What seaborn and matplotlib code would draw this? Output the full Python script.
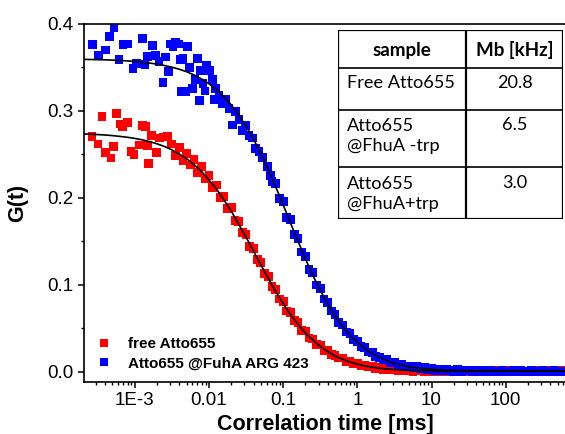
import numpy as np
import pandas as pd
import matplotlib
matplotlib.use('Agg')
import matplotlib.pyplot as plt
import seaborn as sns
from matplotlib.ticker import FixedLocator, FixedFormatter, LogLocator, NullFormatter, MultipleLocator
from matplotlib.patches import Rectangle

# --- data (log10 of lag time in ms, G(t)) ---
red_logt = [-3.575, -3.495, -3.44, -3.39, -3.32, -3.29, -3.25, -3.20, -3.17, -3.10, -3.05,
            -3.01, -2.94, -2.90, -2.85, -2.83, -2.81, -2.77, -2.71, -2.67, -2.61, -2.56,
            -2.50, -2.45, -2.40, -2.35, -2.30, -2.25, -2.20, -2.15, -2.10, -2.05,
            -2.00, -1.95, -1.90, -1.85, -1.80, -1.75, -1.70, -1.65, -1.60, -1.55,
            -1.50, -1.45, -1.40, -1.35, -1.30, -1.25, -1.20, -1.15, -1.10, -1.05,
            -1.00, -0.95, -0.90, -0.85, -0.80, -0.75, -0.70, -0.65, -0.60, -0.55,
            -0.50, -0.45, -0.40, -0.35, -0.30, -0.25, -0.20, -0.15, -0.10, -0.05,
            0.00, 0.05, 0.10, 0.15, 0.20, 0.25, 0.30, 0.35, 0.40, 0.45,
            0.50, 0.55, 0.60, 0.65, 0.70, 0.75, 0.80, 0.85, 0.90, 0.95,
            1.00, 1.05, 1.10, 1.15, 1.20, 1.25, 1.30, 1.35, 1.40, 1.45,
            1.50, 1.55, 1.60, 1.65, 1.70, 1.75, 1.80, 1.85, 1.90, 1.95,
            2.00, 2.05, 2.10, 2.15, 2.20, 2.25, 2.30, 2.35, 2.40, 2.45,
            2.50, 2.55, 2.60, 2.65, 2.70, 2.75]
red_G = [0.271, 0.262, 0.294, 0.252, 0.246, 0.259, 0.297, 0.285, 0.282, 0.287, 0.253,
         0.250, 0.261, 0.283, 0.282, 0.260, 0.240, 0.272, 0.252, 0.269, 0.270, 0.271,
         0.262, 0.249, 0.258, 0.243, 0.251, 0.238, 0.244, 0.229, 0.236, 0.222,
         0.226, 0.212, 0.215, 0.201, 0.202, 0.188, 0.189, 0.174, 0.173, 0.160,
         0.158, 0.144, 0.142, 0.129, 0.126, 0.113, 0.110, 0.098, 0.095, 0.084,
         0.081, 0.070, 0.068, 0.059, 0.057, 0.048, 0.047, 0.039, 0.038, 0.032,
         0.031, 0.025, 0.025, 0.020, 0.019, 0.016, 0.016, 0.012, 0.012, 0.010,
         0.010, 0.007, 0.008, 0.006, 0.006, 0.004, 0.005, 0.003, 0.004, 0.003,
         0.004, 0.002, 0.003, 0.002, 0.003, 0.001, 0.002, 0.002, 0.001, 0.002,
         0.001, 0.002, 0.001, 0.001, 0.002, 0.000, 0.002, 0.001, 0.001, 0.002,
         0.000, 0.001, 0.002, 0.000, 0.001, 0.002, 0.001, 0.000, 0.002, 0.001,
         0.001, 0.002, 0.000, 0.001, 0.002, 0.001, 0.000, 0.001, 0.002, 0.001,
         0.001, 0.000, 0.002, 0.001, 0.001, 0.002]

blue_logt = [-3.571, -3.491, -3.391, -3.337, -3.279, -3.212, -3.158, -3.100, -3.023, -2.978,
             -2.898, -2.861, -2.830, -2.763, -2.717, -2.673, -2.619, -2.582, -2.547, -2.515,
             -2.484, -2.447, -2.412, -2.380, -2.349, -2.367, -2.313, -2.291, -2.259, -2.224,
             -2.187, -2.156, -2.111, -2.124, -2.080, -2.053, -2.035, -1.989, -1.954, -1.931,
             -1.908, -1.864, -1.819, -1.774, -1.729, -1.684, -1.639, -1.594, -1.550, -1.505,
             -1.460, -1.415, -1.370, -1.325, -1.280, -1.213, -1.167,
             -1.15, -1.10, -1.05, -1.00, -0.95, -0.90, -0.85, -0.80, -0.75, -0.70,
             -0.65, -0.60, -0.55, -0.50, -0.45, -0.40, -0.35, -0.30, -0.25, -0.20,
             -0.15, -0.10, -0.05, 0.00, 0.05, 0.10, 0.15, 0.20, 0.25, 0.30,
             0.35, 0.40, 0.45, 0.50, 0.55, 0.60, 0.65, 0.70, 0.75, 0.80,
             0.85, 0.90, 0.95, 1.00, 1.05, 1.10, 1.15, 1.20, 1.25, 1.30,
             1.35, 1.40, 1.45, 1.50, 1.55, 1.60, 1.65, 1.70, 1.75, 1.80,
             1.85, 1.90, 1.95, 2.00, 2.05, 2.10, 2.15, 2.20, 2.25, 2.30,
             2.35, 2.40, 2.45, 2.50, 2.55, 2.60, 2.65, 2.70, 2.75]
blue_G = [0.376, 0.364, 0.370, 0.386, 0.396, 0.359, 0.376, 0.377, 0.349, 0.355,
          0.383, 0.353, 0.363, 0.375, 0.364, 0.357, 0.333, 0.362, 0.345, 0.377,
          0.374, 0.379, 0.377, 0.359, 0.360, 0.322, 0.322, 0.374, 0.350, 0.326,
          0.336, 0.360, 0.347, 0.312, 0.332, 0.323, 0.352, 0.347, 0.336, 0.313,
          0.326, 0.318, 0.309, 0.313, 0.303, 0.284, 0.299, 0.290, 0.278, 0.283,
          0.272, 0.269, 0.257, 0.253, 0.247, 0.236, 0.226,
          0.219, 0.217, 0.199, 0.196, 0.178, 0.175, 0.158, 0.153, 0.138, 0.133,
          0.118, 0.114, 0.100, 0.096, 0.084, 0.080, 0.070, 0.066, 0.057, 0.054,
          0.046, 0.044, 0.037, 0.035, 0.029, 0.028, 0.023, 0.022, 0.018, 0.017,
          0.014, 0.014, 0.011, 0.011, 0.008, 0.009, 0.006, 0.007, 0.005, 0.006,
          0.004, 0.005, 0.003, 0.004, 0.002, 0.003, 0.002, 0.003, 0.002, 0.001,
          0.003, 0.001, 0.002, 0.002, 0.001, 0.002, 0.001, 0.002, 0.000, 0.002,
          0.001, 0.001, 0.002, 0.001, 0.000, 0.002, 0.001, 0.002, 0.001, 0.000,
          0.002, 0.001, 0.001, 0.002, 0.001, 0.000, 0.002, 0.001, 0.001]

# fitted curves, sampled every 0.1 decade
fit_logt = [-3.7, -3.6, -3.5, -3.4, -3.3, -3.2, -3.1, -3.0, -2.9, -2.8, -2.7, -2.6, -2.5,
            -2.4, -2.3, -2.2, -2.1, -2.0, -1.9, -1.8, -1.7, -1.6, -1.5, -1.4, -1.3, -1.2,
            -1.1, -1.0, -0.9, -0.8, -0.7, -0.6, -0.5, -0.4, -0.3, -0.2, -0.1, 0.0, 0.1,
            0.2, 0.3, 0.4, 0.5, 0.6, 0.7, 0.8, 0.9, 1.0, 1.1, 1.2, 1.3, 1.4, 1.5, 1.6,
            1.7, 1.8, 1.9, 2.0, 2.1, 2.2, 2.3, 2.4, 2.5, 2.6, 2.7, 2.8]
red_fit = [0.2737, 0.2733, 0.2729, 0.2724, 0.2717, 0.2708, 0.2698, 0.2685, 0.2669, 0.2648,
           0.2623, 0.2592, 0.2554, 0.2505, 0.2452, 0.2382, 0.2306, 0.2208, 0.2106, 0.1980,
           0.1850, 0.1700, 0.1551, 0.1391, 0.1231, 0.1077, 0.0925, 0.0789, 0.0659, 0.0550,
           0.0449, 0.0369, 0.0294, 0.0237, 0.0184, 0.0148, 0.0114, 0.0091, 0.0070, 0.0056,
           0.0043, 0.0035, 0.0028, 0.0023, 0.0019, 0.0017, 0.0015, 0.0013, 0.0012, 0.0011,
           0.0011, 0.0010, 0.0010, 0.0010, 0.0010, 0.0010, 0.0010, 0.0010, 0.0010, 0.0010,
           0.0010, 0.0010, 0.0010, 0.0010, 0.0010, 0.0010]
blue_fit = [0.3594, 0.3592, 0.3590, 0.3588, 0.3585, 0.3581, 0.3576, 0.3569, 0.3561, 0.3551,
            0.3539, 0.3523, 0.3504, 0.3480, 0.3451, 0.3414, 0.3369, 0.3313, 0.3247, 0.3166,
            0.3070, 0.2956, 0.2826, 0.2677, 0.2509, 0.2326, 0.2128, 0.1922, 0.1711, 0.1504,
            0.1301, 0.1113, 0.0937, 0.0783, 0.0643, 0.0527, 0.0422, 0.0342, 0.0268, 0.0214,
            0.0165, 0.0131, 0.0100, 0.0079, 0.0060, 0.0048, 0.0037, 0.0031, 0.0025, 0.0020,
            0.0018, 0.0015, 0.0014, 0.0013, 0.0012, 0.0011, 0.0011, 0.0010, 0.0010, 0.0010,
            0.0010, 0.0010, 0.0010, 0.0010, 0.0010, 0.0010]

series_names = ['free Atto655', 'Atto655 @FuhA ARG 423']
series_colors = ['#ff0000', '#0000ff']

xtick_vals = [1e-3, 1e-2, 1e-1, 1, 10, 100]
xtick_labels = ['1E-3', '0.01', '0.1', '1', '10', '100']

table_header = ['sample', 'Mb [kHz]']
table_samples = ['Free Atto655', 'Atto655\n@FhuA -trp', 'Atto655\n@FhuA+trp']
table_mb = ['20.8', '6.5', '3.0']

sns.set_theme(style='ticks', rc={'axes.edgecolor': 'black', 'xtick.color': 'black',
                                 'ytick.color': 'black', 'text.color': 'black',
                                 'axes.labelcolor': 'black'})
plt.rcParams['font.family'] = ['Liberation Sans', 'DejaVu Sans']

df = pd.concat([
    pd.DataFrame({'t': 10 ** np.array(red_logt), 'G': red_G, 'sample': series_names[0]}),
    pd.DataFrame({'t': 10 ** np.array(blue_logt), 'G': blue_G, 'sample': series_names[1]}),
], ignore_index=True)
fit_t = 10 ** np.array(fit_logt)

fig = plt.figure(figsize=(5.65, 4.34), dpi=100)
W, H = 565, 434
ax = fig.add_axes([84 / W, 1 - 382 / H, 488.5 / W, 358 / H])

sns.scatterplot(data=df, x='t', y='G', hue='sample', palette=series_colors,
                marker='s', s=40, linewidth=0, ax=ax)
sns.lineplot(x=fit_t, y=red_fit, color='black', lw=1.2, estimator=None, legend=False, ax=ax)
sns.lineplot(x=fit_t, y=blue_fit, color='black', lw=1.2, estimator=None, legend=False, ax=ax)

ax.set_xscale('log')
ax.set_xlim(10 ** -3.684, 10 ** 2.9)
ax.set_ylim(-0.0115, 0.4)

ax.xaxis.set_major_locator(FixedLocator(xtick_vals))
ax.xaxis.set_major_formatter(FixedFormatter(xtick_labels))
ax.xaxis.set_minor_locator(LogLocator(base=10, subs=np.arange(2, 10)))
ax.xaxis.set_minor_formatter(NullFormatter())
ax.yaxis.set_major_locator(MultipleLocator(0.1))
ax.yaxis.set_minor_locator(MultipleLocator(0.05))
ax.yaxis.set_major_formatter(plt.FuncFormatter(lambda v, p: f'{v:.1f}'))

ax.tick_params(which='major', direction='out', length=4.5, width=1.1, labelsize=13.5, pad=3)
ax.tick_params(which='minor', direction='out', length=2.3, width=1.0)
ax.tick_params(top=False, right=False, which='both')
for side in ['left', 'bottom', 'top', 'right']:
    ax.spines[side].set_linewidth(1.2)

ax.set_xlabel('Correlation time [ms]', fontsize=15.5, fontweight='bold')
ax.set_ylabel('G(t)', fontsize=15.5, fontweight='bold')
ax.xaxis.set_label_coords(0.495, -0.089)
ax.yaxis.set_label_coords(-0.115, 0.5)

handles, labels = ax.get_legend_handles_labels()
ax.legend(handles[:2], labels[:2], loc='lower left', bbox_to_anchor=(-0.016, -0.002),
          frameon=False, prop={'weight': 'bold', 'size': 11}, handletextpad=0.6,
          labelspacing=0.35, borderpad=0.3, markerscale=1.0)

# inset table
tab = fig.add_axes([338 / W, 1 - 219 / H, 225 / W, 189 / H])
tab.set_xlim(0, 1)
tab.set_ylim(0, 1)
tab.axis('off')
tab.add_patch(Rectangle((0, 0), 1, 1, facecolor='white', edgecolor='black', lw=1.6))
col_x = 0.569
row_y = [0.797, 0.577, 0.277]
tab.plot([col_x, col_x], [0, 1], color='black', lw=1.6)
for yy in row_y:
    tab.plot([0, 1], [yy, yy], color='black', lw=1.2)
tfont = ['Lato', 'DejaVu Sans']
tab.text(0.284, 0.894, table_header[0], ha='center', va='center', fontsize=13.5,
         fontweight='bold', family=tfont)
tab.text(0.787, 0.894, table_header[1], ha='center', va='center', fontsize=13.5,
         fontweight='bold', family=tfont)
sample_y = [0.720, 0.437, 0.132]
mb_y = [0.720, 0.497, 0.190]
for name, val, sy, my in zip(table_samples, table_mb, sample_y, mb_y):
    tab.text(0.039, sy, name, ha='left', va='center', fontsize=13.1, family=tfont,
             linespacing=1.3)
    tab.text(0.787, my, val, ha='center', va='center', fontsize=13.1, family=tfont)

fig.savefig('out.png', dpi=100)
